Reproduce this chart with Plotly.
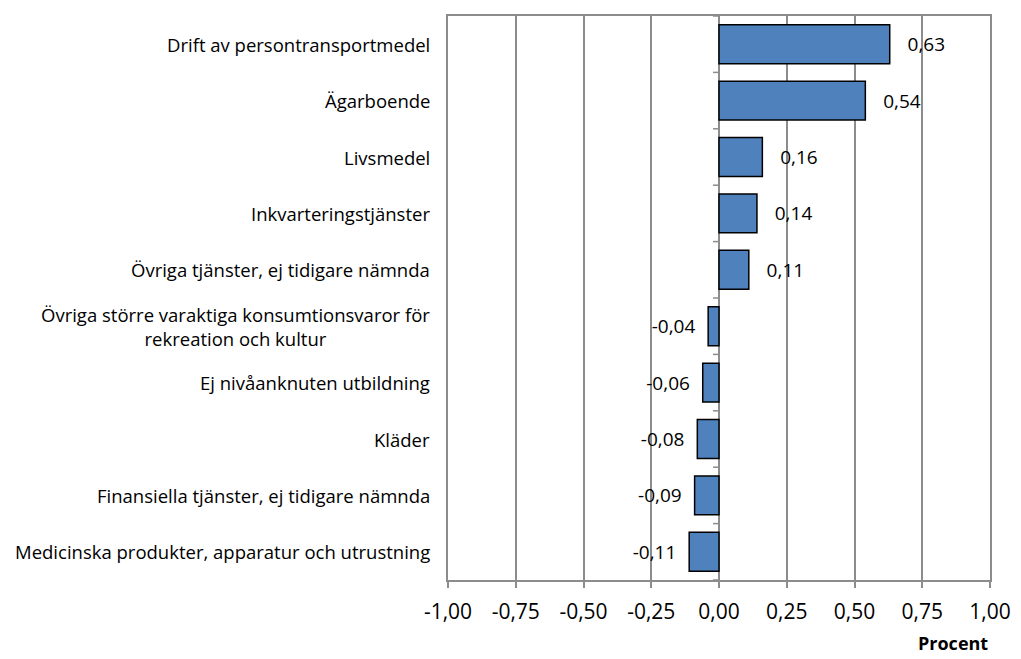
import plotly.graph_objects as go

categories = [
    "Drift av persontransportmedel",
    "Ägarboende",
    "Livsmedel",
    "Inkvarteringstjänster",
    "Övriga tjänster, ej tidigare nämnda",
    "Övriga större varaktiga konsumtionsvaror för<br>rekreation och kultur",
    "Ej nivåanknuten utbildning",
    "Kläder",
    "Finansiella tjänster, ej tidigare nämnda",
    "Medicinska produkter, apparatur och utrustning",
]
values = [0.63, 0.54, 0.16, 0.14, 0.11, -0.04, -0.06, -0.08, -0.09, -0.11]
tick_vals = [-1.0, -0.75, -0.5, -0.25, 0.0, 0.25, 0.5, 0.75, 1.0]
tick_text = [f"{t:.2f}".replace(".", ",") for t in tick_vals]

labels = []
for v in values:
    s = f"{v:.2f}".replace(".", ",")
    labels.append("   " + s if v >= 0 else s + "  ")

font = "'Open Sans', sans-serif"
grid = "#8c8c8c"

fig = go.Figure(go.Bar(
    x=values, y=list(range(len(categories))), orientation="h",
    marker=dict(color="#4F81BD", line=dict(color="black", width=1.5)),
    text=labels, textposition="outside", cliponaxis=False,
    textfont=dict(size=19, color="black", family=font),
    width=0.69,
))

annotations = []
for i, c in enumerate(categories):
    annotations.append(dict(
        text=c, xref="paper", yref="y", x=0, y=i, xshift=-16,
        xanchor="right", yanchor="middle", align="center", showarrow=False,
        font=dict(size=18.5, family=font, color="black"),
    ))
annotations.append(dict(
    text="<b>Procent</b>", xref="paper", yref="paper", x=1.0, y=-0.112,
    xanchor="right", yanchor="middle", showarrow=False,
    font=dict(size=18, family=font, color="black"),
))

shapes = []
for i in range(len(categories) + 1):
    shapes.append(dict(
        type="line", xref="x", yref="y", xsizemode="pixel", xanchor=0,
        x0=-6, x1=0, y0=i - 0.5, y1=i - 0.5,
        line=dict(color=grid, width=1.5),
    ))

fig.update_layout(
    width=1013, height=651,
    margin=dict(l=440, r=31, t=6, b=79),
    paper_bgcolor="white", plot_bgcolor="white",
    showlegend=False,
    font=dict(family=font, color="black"),
    xaxis=dict(
        range=[-1, 1], tickvals=tick_vals, ticktext=tick_text,
        showgrid=True, gridcolor=grid, gridwidth=1.5,
        zeroline=True, zerolinecolor=grid, zerolinewidth=1.5,
        showline=True, linecolor=grid, linewidth=1.5, mirror=True,
        ticks="outside", ticklen=6, tickcolor=grid, tickwidth=1.5,
        ticklabelstandoff=6,
        tickfont=dict(size=21, family=font, color="black"),
    ),
    yaxis=dict(
        range=[len(categories) - 0.5, -0.5],
        showline=True, linecolor=grid, linewidth=1.5, mirror=True,
        showgrid=False, ticks="", showticklabels=False, zeroline=False,
    ),
    annotations=annotations,
    shapes=shapes,
)

fig.write_html("out.html")
